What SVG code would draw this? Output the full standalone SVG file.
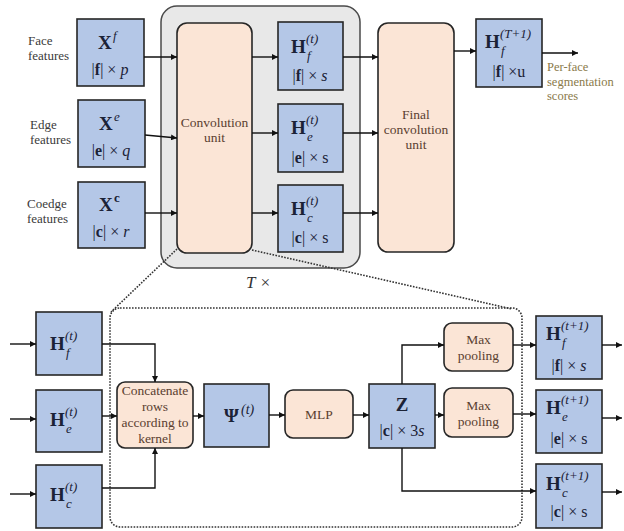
<svg xmlns="http://www.w3.org/2000/svg" width="624" height="531" viewBox="0 0 624 531">
<style>
.bg{fill:#fff}
.gray{fill:#e8e8e8;stroke:#4a4a4a;stroke-width:1.5}
.blue{fill:#b4c7e7;stroke:#262626;stroke-width:1.6}
.peach{fill:#fbe5d6;stroke:#262626;stroke-width:1.6}
.conn{fill:none;stroke:#111;stroke-width:1.4;marker-end:url(#ah)}
.dot{fill:none;stroke:#333;stroke-width:1.6;stroke-dasharray:1.6 1.4}
.lbl{font-family:"Liberation Serif",serif;font-size:13px;fill:#3a3a3a}
.ptxt{font-family:"Liberation Serif",serif;font-size:13.5px;fill:#5a4030;text-anchor:middle}
.out{font-family:"Liberation Serif",serif;font-size:12.5px;fill:#8a7a4a}
.m{font-family:"Liberation Serif",serif;font-size:19px;font-weight:bold;fill:#1b2236}
.s{font-family:"Liberation Serif",serif;font-size:13px;font-style:italic;font-weight:normal;fill:#1b2236}
.d{font-family:"Liberation Serif",serif;font-size:16px;fill:#1b2236;text-anchor:middle}
.b{font-weight:bold}
.i{font-style:italic}
.tx{font-family:"Liberation Serif",serif;font-size:17px;font-style:italic;fill:#333}
</style>
<defs>
<marker id="ah" markerUnits="userSpaceOnUse" markerWidth="7" markerHeight="6" refX="6" refY="3" orient="auto">
<path d="M0,0 L6,3 L0,6 z" fill="#111"/>
</marker>
</defs>
<rect class="bg" x="0" y="0" width="624" height="531"/>

<g id="loop-container">
<rect class="gray" x="161" y="6" width="199" height="262" rx="16"/>
<text class="tx" x="246" y="288">T ×</text>
</g>

<g id="input-labels">
<text class="lbl" x="28" y="45">Face</text>
<text class="lbl" x="28" y="60">features</text>
<text class="lbl" x="30" y="129">Edge</text>
<text class="lbl" x="30" y="144">features</text>
<text class="lbl" x="27" y="208">Coedge</text>
<text class="lbl" x="27" y="223">features</text>
</g>

<g id="Xf">
<rect class="blue" x="77" y="19" width="67" height="67"/>
<text class="m" x="98" y="49">X<tspan class="s" x="113" y="40">f</tspan></text>
<text class="d" x="110" y="75">|<tspan class="b">f</tspan>| × <tspan class="i">p</tspan></text>
</g>
<g id="Xe">
<rect class="blue" x="78" y="100" width="67" height="67"/>
<text class="m" x="99" y="130">X<tspan class="s" x="114" y="121">e</tspan></text>
<text class="d" x="111" y="156">|<tspan class="b">e</tspan>| × <tspan class="i">q</tspan></text>
</g>
<g id="Xc">
<rect class="blue" x="78" y="182" width="67" height="66"/>
<text class="m" x="99" y="211">X<tspan class="s" x="114" y="202" style="font-style:normal;font-weight:bold">c</tspan></text>
<text class="d" x="111" y="237">|<tspan class="b">c</tspan>| × <tspan class="i">r</tspan></text>
</g>

<g id="conv-unit">
<rect class="peach" x="177" y="23" width="75" height="230" rx="10"/>
<text class="ptxt" x="214.5" y="127">Convolution</text>
<text class="ptxt" x="214.5" y="142">unit</text>
</g>

<g id="Hf-t">
<rect class="blue" x="278" y="22" width="65" height="68"/>
<text class="m" x="291" y="53">H<tspan class="s" x="306" y="43">(t)</tspan><tspan class="s" x="307" y="60">f</tspan></text>
<text class="d" x="310" y="81">|<tspan class="b">f</tspan>| × <tspan class="i">s</tspan></text>
</g>
<g id="He-t">
<rect class="blue" x="278" y="104" width="65" height="68"/>
<text class="m" x="291" y="134">H<tspan class="s" x="306" y="124">(t)</tspan><tspan class="s" x="307" y="141">e</tspan></text>
<text class="d" x="310" y="163">|<tspan class="b">e</tspan>| × s</text>
</g>
<g id="Hc-t">
<rect class="blue" x="278" y="185" width="65" height="67"/>
<text class="m" x="291" y="215">H<tspan class="s" x="306" y="205">(t)</tspan><tspan class="s" x="307" y="222">c</tspan></text>
<text class="d" x="310" y="243">|<tspan class="b">c</tspan>| × s</text>
</g>

<g id="final-conv-unit">
<rect class="peach" x="378" y="23" width="76" height="229" rx="10"/>
<text class="ptxt" x="416" y="119">Final</text>
<text class="ptxt" x="416" y="134">convolution</text>
<text class="ptxt" x="416" y="149">unit</text>
</g>

<g id="Hf-T1">
<rect class="blue" x="476" y="19" width="66" height="68"/>
<text class="m" x="485" y="48">H<tspan class="s" x="500" y="38">(T+1)</tspan><tspan class="s" x="501" y="55">f</tspan></text>
<text class="d" x="509" y="77">|<tspan class="b">f</tspan>| ×u</text>
</g>
<g id="output-label">
<text class="out" x="547" y="71">Per-face</text>
<text class="out" x="547" y="85.5">segmentation</text>
<text class="out" x="547" y="100">scores</text>
</g>

<g id="zoom-lines">
<path class="dot" d="M177,249 L111,312"/>
<path class="dot" d="M252,250 L512,309"/>
</g>

<g id="detail-container">
<rect class="dot" x="110" y="308" width="412" height="219" rx="10"/>
</g>

<g id="Hf-t-in">
<rect class="blue" x="36" y="312" width="66" height="63"/>
<text class="m" x="50" y="350">H<tspan class="s" x="65" y="340">(t)</tspan><tspan class="s" x="66" y="357">f</tspan></text>
</g>
<g id="He-t-in">
<rect class="blue" x="36" y="390" width="66" height="62"/>
<text class="m" x="50" y="426">H<tspan class="s" x="65" y="416">(t)</tspan><tspan class="s" x="66" y="433">e</tspan></text>
</g>
<g id="Hc-t-in">
<rect class="blue" x="36" y="465" width="66" height="63"/>
<text class="m" x="50" y="501">H<tspan class="s" x="65" y="491">(t)</tspan><tspan class="s" x="66" y="508">c</tspan></text>
</g>

<g id="concat">
<rect class="peach" x="117" y="382" width="76" height="66" rx="8"/>
<text class="ptxt" x="155" y="395">Concatenate</text>
<text class="ptxt" x="155" y="411">rows</text>
<text class="ptxt" x="155" y="427">according to</text>
<text class="ptxt" x="155" y="443">kernel</text>
</g>

<g id="psi">
<rect class="blue" x="204" y="384" width="65" height="63"/>
<text class="m" x="224" y="422">Ψ<tspan class="s" x="241" y="414" style="font-size:14px">(t)</tspan></text>
</g>

<g id="mlp">
<rect class="peach" x="285" y="390" width="68" height="48" rx="8"/>
<text class="ptxt" x="319" y="419">MLP</text>
</g>

<g id="Z">
<rect class="blue" x="369" y="384" width="66" height="64"/>
<text class="m" x="402" y="411" text-anchor="middle">Z</text>
<text class="d" x="402" y="436">|<tspan class="b">c</tspan>| × 3<tspan class="i">s</tspan></text>
</g>

<g id="maxpool-1">
<rect class="peach" x="444" y="323" width="69" height="48" rx="8"/>
<text class="ptxt" x="478.5" y="344">Max</text>
<text class="ptxt" x="478.5" y="360">pooling</text>
</g>
<g id="maxpool-2">
<rect class="peach" x="444" y="388" width="69" height="49" rx="8"/>
<text class="ptxt" x="478.5" y="410">Max</text>
<text class="ptxt" x="478.5" y="426">pooling</text>
</g>

<g id="Hf-t1">
<rect class="blue" x="536" y="316" width="66" height="63"/>
<text class="m" x="546" y="340">H<tspan class="s" x="561" y="330">(t+1)</tspan><tspan class="s" x="562" y="347">f</tspan></text>
<text class="d" x="569" y="371">|<tspan class="b">f</tspan>| × <tspan class="i">s</tspan></text>
</g>
<g id="He-t1">
<rect class="blue" x="536" y="390" width="66" height="63"/>
<text class="m" x="546" y="414">H<tspan class="s" x="561" y="404">(t+1)</tspan><tspan class="s" x="562" y="421">e</tspan></text>
<text class="d" x="569" y="444">|<tspan class="b">e</tspan>| × s</text>
</g>
<g id="Hc-t1">
<rect class="blue" x="536" y="464" width="66" height="64"/>
<text class="m" x="546" y="490">H<tspan class="s" x="561" y="480">(t+1)</tspan><tspan class="s" x="562" y="497">c</tspan></text>
<text class="d" x="569" y="517">|<tspan class="b">c</tspan>| × s</text>
</g>

<g id="connectors">
<path class="conn" d="M144,57 H177"/>
<path class="conn" d="M145,135 L177,138"/>
<path class="conn" d="M145,213 H177"/>
<path class="conn" d="M252,57 H278"/>
<path class="conn" d="M252,133 H278"/>
<path class="conn" d="M252,213 H278"/>
<path class="conn" d="M343,57 H378"/>
<path class="conn" d="M343,133 H378"/>
<path class="conn" d="M343,213 H378"/>
<path class="conn" d="M454,51 H476"/>
<path class="conn" d="M542,53 H578"/>
<path class="conn" d="M10,344 H36"/>
<path class="conn" d="M10,419 H36"/>
<path class="conn" d="M10,494 H36"/>
<path class="conn" d="M102,344 H155 V382"/>
<path class="conn" d="M102,416 H117"/>
<path class="conn" d="M102,488 H155 V448"/>
<path class="conn" d="M193,416 H204"/>
<path class="conn" d="M269,415 H285"/>
<path class="conn" d="M353,415 H369"/>
<path class="conn" d="M402,384 V345 H444"/>
<path class="conn" d="M435,415 H444"/>
<path class="conn" d="M402,448 V491 H536"/>
<path class="conn" d="M513,345 H536"/>
<path class="conn" d="M513,414 H536"/>
<path class="conn" d="M602,345 H622"/>
<path class="conn" d="M602,418 H622"/>
<path class="conn" d="M602,492 H622"/>
</g>
</svg>
